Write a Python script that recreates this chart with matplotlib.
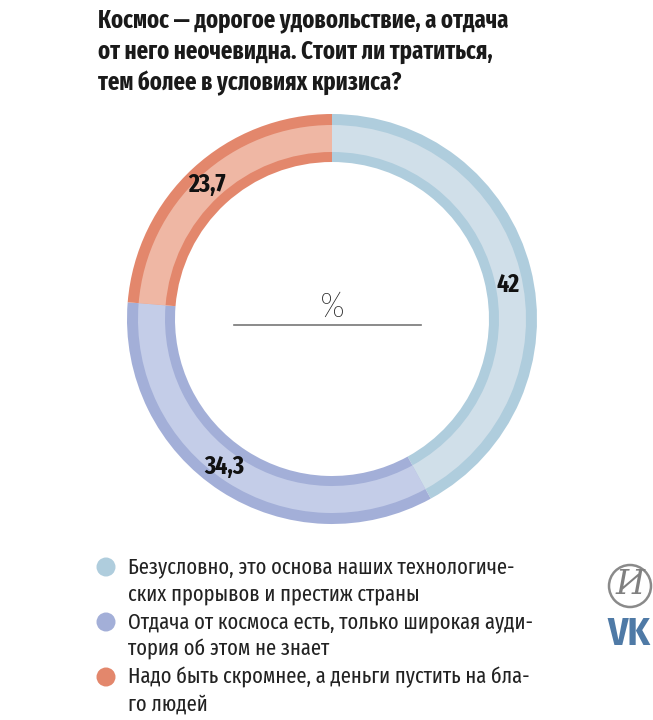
# plot.py - space spending poll, donut chart
import logging
import matplotlib
matplotlib.use("Agg")
import matplotlib.pyplot as plt
from matplotlib.patches import Circle

logging.getLogger("matplotlib.font_manager").setLevel(logging.ERROR)
FONT = ["Fira Sans Extra Condensed", "Fira Sans Condensed", "Roboto Condensed", "Roboto", "DejaVu Sans"]
plt.rcParams["font.family"] = FONT

TITLE = ["Космос — дорогое удовольствие, а отдача",
         "от него неочевидна. Стоит ли тратиться,",
         "тем более в условиях кризиса?"]
values = [42, 34.3, 23.7]
value_labels = ["42", "34,3", "23,7"]
edge_colors = ["#AFCDDD", "#A3AFD8", "#E3876C"]
fill_colors = ["#D0DFE9", "#C4CDE8", "#EFB7A4"]
legend_lines = [
    ["Безусловно, это основа наших технологиче-", "ских прорывов и престиж страны"],
    ["Отдача от космоса есть, только широкая ауди-", "тория об этом не знает"],
    ["Надо быть скромнее, а деньги пустить на бла-", "го людей"],
]

W, H = 653, 720
CX, CY = 332, 319


def py(y):
    # picture y (from the top) to axes y
    return H - y


fig = plt.figure(figsize=(W / 100, H / 100), dpi=100, facecolor="white")
ax = fig.add_axes([0, 0, 1, 1])

# darker ring first, lighter band on top of it
ax.pie(values, colors=edge_colors, startangle=90, counterclock=False,
       center=(CX, py(CY)), radius=205, wedgeprops=dict(width=48, linewidth=0))
ax.pie(values, colors=fill_colors, startangle=90, counterclock=False,
       center=(CX, py(CY)), radius=194, wedgeprops=dict(width=27, linewidth=0))
ax.set_xlim(0, W)
ax.set_ylim(0, H)
ax.set_aspect("equal")
ax.axis("off")

for label, (x, y) in zip(value_labels, [(508, 285), (224, 467), (207, 185)]):
    ax.text(x, py(y), label, fontsize=18.5, fontweight="bold", color="#111111",
            ha="center", va="center")

ax.text(CX, py(307), "%", fontsize=26, fontweight="light", color="#222222", ha="center", va="center",
        family=["Fira Sans Condensed", "Roboto", "DejaVu Sans"])
ax.plot([234, 421], [py(325), py(325)], color="#777777", linewidth=1.2)

for line, y in zip(TITLE, [21, 52, 83]):
    ax.text(98, py(y), line, fontsize=17.75, fontweight="bold", color="#1a1a1a",
            ha="left", va="center")

for i, lines in enumerate(legend_lines):
    y0 = 567 + i * 55
    ax.add_patch(Circle((106, py(y0)), 9.5, color=edge_colors[i], linewidth=0))
    for j, line in enumerate(lines):
        ax.text(128, py(y0 + j * 27), line, fontsize=16, color="#222222",
                ha="left", va="center")

# logos
ax.add_patch(Circle((630, py(586)), 21, facecolor="white", edgecolor="#8a8a8a", linewidth=1.8))
ax.text(630, py(585), "И", fontsize=24, color="#808080", style="italic",
        family="DejaVu Serif", ha="center", va="center")
ax.text(629, py(635), "VK", fontsize=28, color="#4F7AA6", fontweight="bold",
        family=["Fira Sans Condensed", "DejaVu Sans"], ha="center", va="center")

fig.savefig("out.png", dpi=100)
